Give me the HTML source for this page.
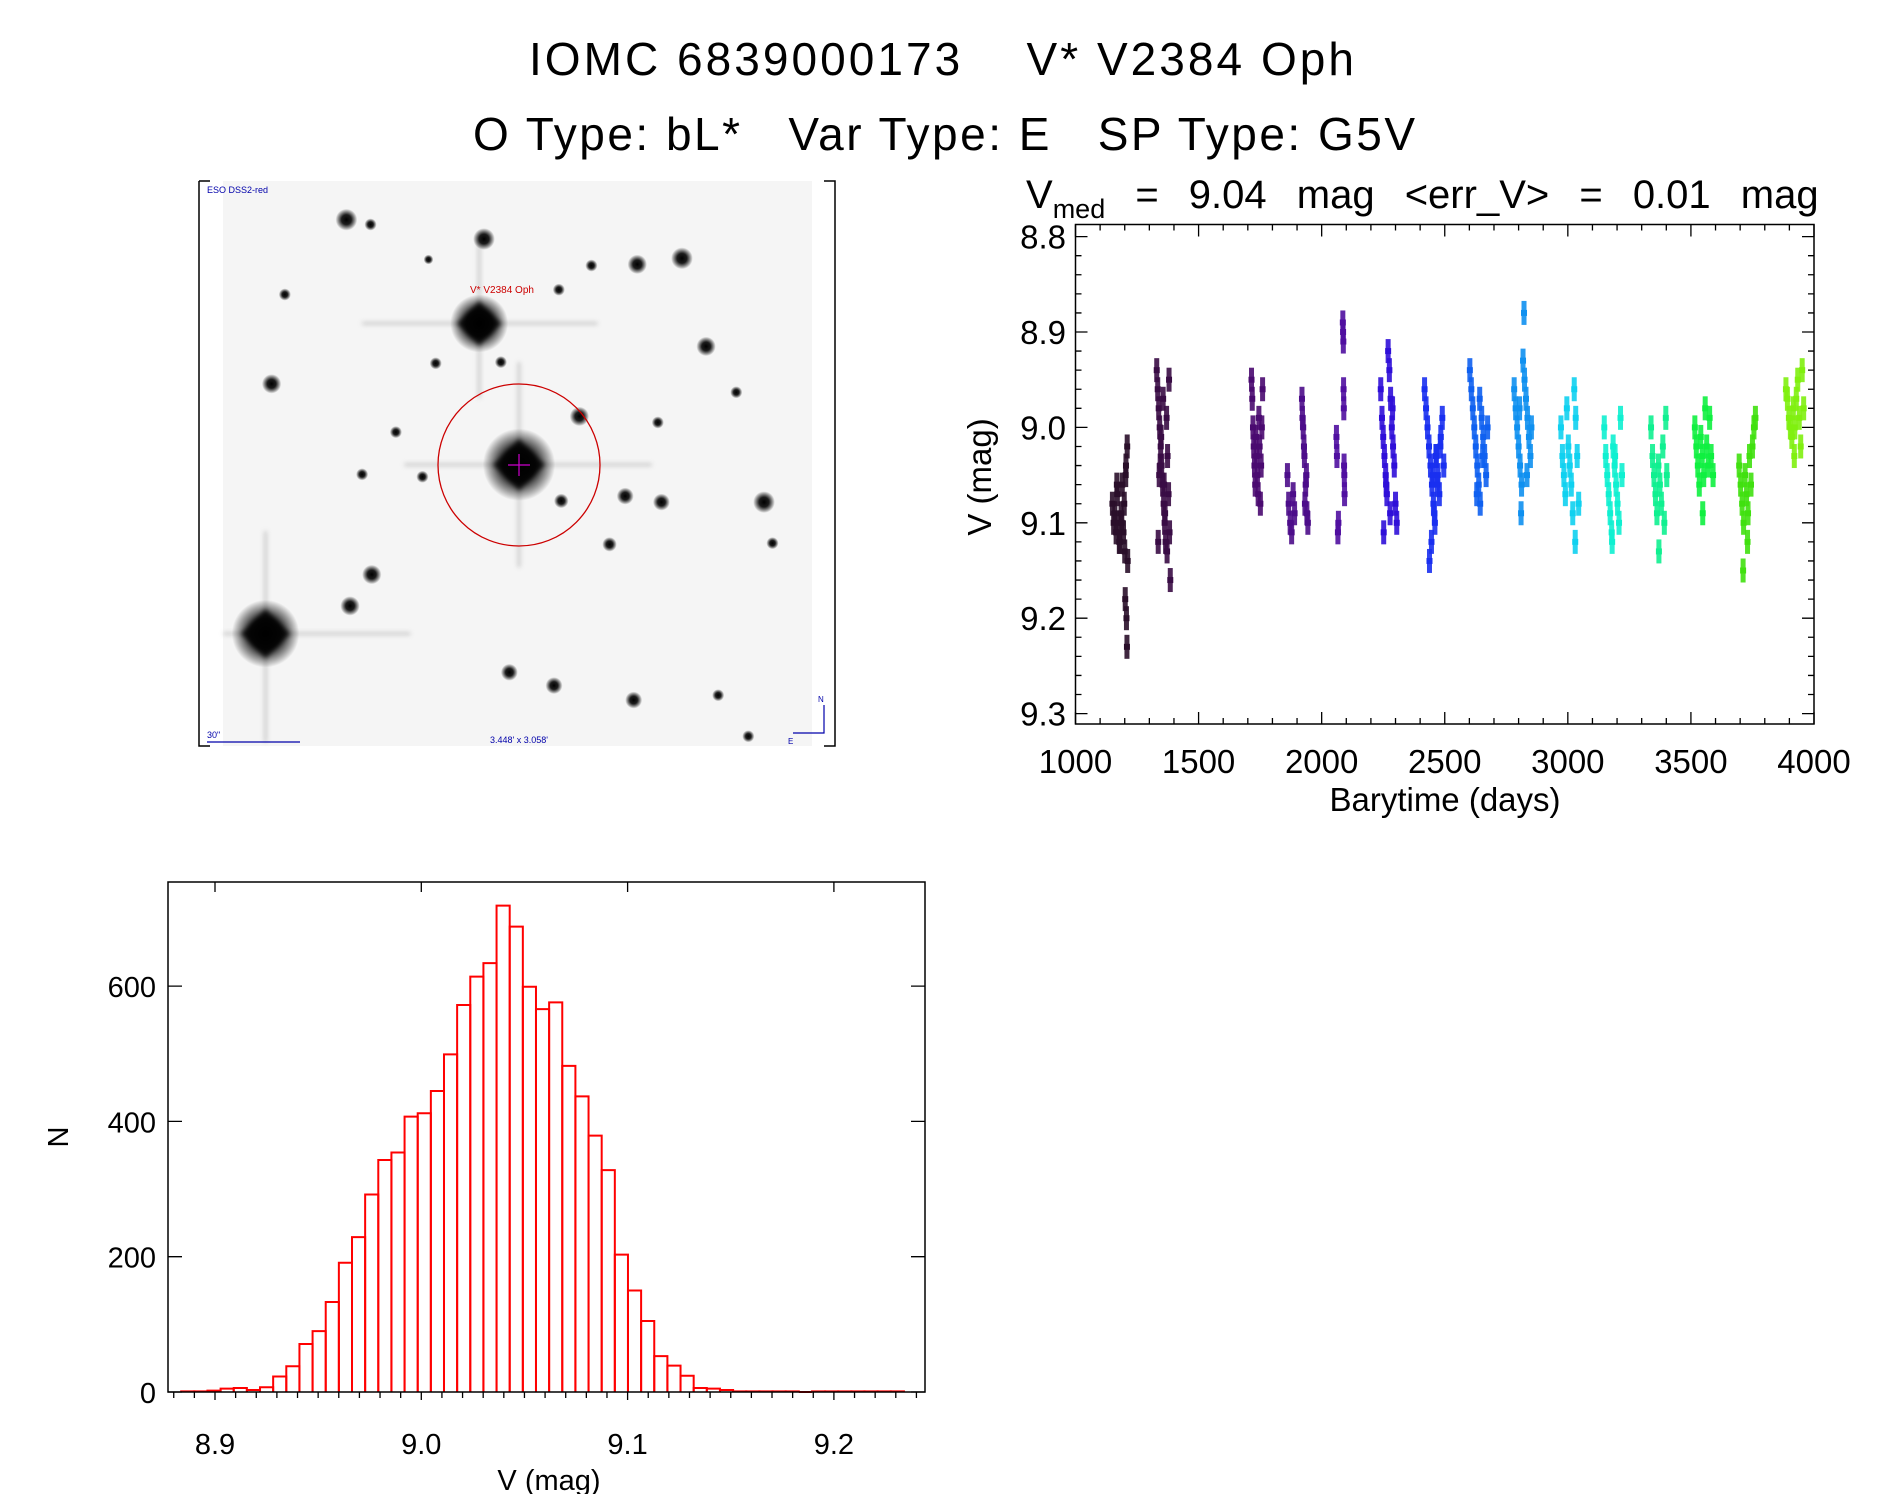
<!DOCTYPE html>
<html><head><meta charset="utf-8"><title>IOMC 6839000173 light curve</title>
<style>
html,body{margin:0;padding:0;background:#fff;}
svg{display:block;font-family:"Liberation Sans",sans-serif;}
</style></head>
<body>
<svg id="fig" width="1889" height="1494" viewBox="0 0 1889 1494" xmlns="http://www.w3.org/2000/svg">
<defs>
<radialGradient id="starg"><stop offset="0" stop-color="#000" stop-opacity="1"/><stop offset="0.45" stop-color="#111" stop-opacity="0.95"/><stop offset="1" stop-color="#000" stop-opacity="0"/></radialGradient>
<filter id="blur1"><feGaussianBlur stdDeviation="2"/></filter>
</defs>
<text x="529" y="75" font-size="46" textLength="825" lengthAdjust="spacing">IOMC 6839000173&#160;&#160;&#160;&#160;V* V2384 Oph</text>
<text x="473" y="150" font-size="46" textLength="942" lengthAdjust="spacing">O Type: bL*&#160;&#160;&#160;Var Type: E&#160;&#160;&#160;SP Type: G5V</text>
<text x="1026" y="208" font-size="40" word-spacing="19">V<tspan font-size="27" dy="10">med</tspan><tspan dy="-10"> = 9.04 mag &lt;err_V&gt; = 0.01 mag</tspan></text>

<g id="thumb">
<rect x="199" y="181" width="636" height="565" fill="#fff"/>
<rect x="223" y="181" width="589" height="565" fill="#f5f5f5"/>
<g transform="scale(1.207)" id="stars"></g>
<path d="M199 181 H210 M199 181 V746 H210 M824 181 H835 V746 H824" stroke="#000" stroke-width="1.5" fill="none"/>
<circle cx="519" cy="465" r="81" fill="none" stroke="#c00" stroke-width="1.3"/>
<path d="M508 465 H530 M519 454 V476" stroke="#c0c" stroke-width="1.2"/>
<text x="470" y="293" font-size="10" fill="#c00">V* V2384 Oph</text>
<text x="207" y="193" font-size="9" fill="#00a">ESO DSS2-red</text>
<text x="207" y="738" font-size="9" fill="#00a">30"</text>
<path d="M207 742 H300" stroke="#00a" stroke-width="1.2"/>
<text x="490" y="743" font-size="9" fill="#00a">3.448' x 3.058'</text>
<text x="818" y="702" font-size="8" fill="#00a">N</text>
<text x="788" y="744" font-size="8" fill="#00a">E</text>
<path d="M824 705 V733 H793" stroke="#00a" stroke-width="1.2" fill="none"/>
</g>

<g id="lc"></g>
<g id="hist"></g>
</svg>
<script>
// ---------- light curve data ----------
const seasonColors = ["#2a0f2a","#3a0c45","#4a0a70","#4c0d8a","#5010a0","#3010d8","#1a30f0","#1060f0","#1090f0","#10d0f0","#10f0d0","#10f090","#10f040","#40e010","#80f010"];
const seasonTimes = [
 [1150,1155,1160,1165,1170,1175,1180,1185,1190,1195,1200,1205,1210,1212,1198,1188,1178,1168,1202,1207,1209,1204],
 [1330,1334,1338,1342,1346,1350,1354,1358,1362,1366,1370,1374,1378,1382,1340,1348,1356,1364,1372,1380,1344,1385,1336,1360],
 [1715,1718,1721,1724,1727,1730,1733,1736,1739,1742,1745,1748,1751,1754,1757,1760],
 [1861,1866,1872,1878,1884,1890,1920,1925,1930,1935,1940,1944,1928,1938,1922,1932],
 [2060,2062,2066,2068,2086,2087,2088,2089,2090,2091,2092,2093],
 [2240,2245,2250,2255,2260,2265,2270,2275,2280,2285,2290,2295,2300,2305,2262,2278,2252,2288],
 [2418,2424,2430,2436,2442,2448,2454,2460,2466,2472,2478,2484,2490,2496,2446,2458,2470,2482,2438,2452,2464],
 [2602,2608,2614,2620,2626,2632,2638,2644,2650,2656,2662,2668,2674,2630,2642,2654],
 [2782,2788,2794,2800,2806,2812,2818,2824,2830,2836,2842,2848,2852,2810,2822,2834,2804],
 [2972,2978,2984,2990,2996,3002,3008,3014,3020,3026,3032,3038,3044,3030],
 [3148,3154,3160,3166,3172,3178,3184,3190,3196,3202,3208,3214,3220,3180,3192],
 [3338,3344,3350,3356,3362,3368,3374,3380,3386,3392,3398,3402,3370],
 [3516,3522,3528,3534,3540,3546,3552,3558,3564,3570,3576,3582,3590,3548],
 [3696,3702,3708,3714,3720,3726,3732,3738,3744,3750,3756,3762,3712,3730],
 [3886,3892,3898,3904,3910,3916,3922,3928,3934,3940,3946,3952,3958,3920]
];
const seasonMags = [
 [9.08,9.10,9.09,9.11,9.07,9.10,9.12,9.09,9.06,9.11,9.13,9.04,9.02,9.14,9.08,9.10,9.12,9.06,9.18,9.20,9.23,9.05],
 [8.94,8.96,8.98,9.00,9.02,9.04,9.06,9.08,9.10,9.12,8.99,9.03,9.07,9.11,9.05,9.01,8.97,9.09,9.13,8.95,9.04,9.16,9.12,9.06],
 [8.95,8.97,9.00,9.02,9.04,9.06,9.01,9.03,9.05,9.07,8.99,9.02,9.08,9.04,9.00,8.96],
 [9.05,9.08,9.10,9.11,9.07,9.09,8.97,9.00,9.03,9.06,9.09,9.10,9.02,9.05,8.99,9.08],
 [9.01,9.03,9.11,9.10,8.89,8.90,8.91,8.96,8.98,9.04,9.05,9.07],
 [8.96,8.99,9.01,9.03,9.05,9.07,8.92,8.94,8.97,9.00,9.02,9.04,9.08,9.10,9.06,9.09,9.11,8.98],
 [8.96,8.98,9.00,9.02,9.04,9.06,9.08,9.10,9.03,9.05,9.07,9.01,8.99,9.04,9.12,9.09,9.06,9.02,9.14,9.05,9.03],
 [8.94,8.96,8.98,9.00,9.02,9.04,9.06,9.08,8.99,9.01,9.03,9.05,9.00,9.07,8.97,9.03],
 [8.96,8.98,9.00,9.02,9.04,9.06,8.93,8.95,8.97,8.99,9.01,9.03,9.00,9.09,8.88,9.05,8.98],
 [9.00,9.03,9.05,9.07,8.98,9.02,9.04,9.06,9.09,8.96,8.99,9.03,9.08,9.12],
 [9.00,9.03,9.05,9.07,9.09,9.11,9.02,9.04,9.06,9.08,9.10,8.99,9.05,9.12,9.03],
 [9.00,9.03,9.05,9.07,9.09,9.04,9.06,9.08,9.02,9.10,8.99,9.05,9.13],
 [9.00,9.02,9.04,9.06,9.01,9.03,9.05,8.98,9.02,9.04,8.99,9.03,9.05,9.09],
 [9.04,9.06,9.08,9.10,9.05,9.07,9.09,9.03,9.06,9.02,9.00,8.99,9.15,9.12],
 [8.96,8.97,8.99,9.00,9.01,8.98,9.00,8.97,8.95,8.99,9.02,8.94,8.98,9.03]
];
const lcXTicks = [1000,1500,2000,2500,3000,3500,4000];
const lcYTicks = [8.8,8.9,9.0,9.1,9.2,9.3];

// ---------- histogram data ----------
const histStart = 8.8836;
const histBinWidth = 0.00637;
const histCounts = [1,1,2,5,6,3,7,23,38,71,90,133,191,229,292,343,354,407,412,445,499,572,614,634,719,688,599,566,576,482,437,379,328,203,150,105,53,39,24,6,5,3,1,1,1,1,1,0,1,1,1,1,1,1,1];
const histXTicks = [8.9,9.0,9.1,9.2];
const histYTicks = [0,200,400,600];

const NS = "http://www.w3.org/2000/svg";
function mk(tag, attrs, parent){const e=document.createElementNS(NS,tag);for(const k in attrs)e.setAttribute(k,attrs[k]);parent.appendChild(e);return e;}

// ---------- finder image stars ----------
const starsG = document.getElementById('stars');
const starList = [[397,268,24],[430,385,30],[220,525,28],[401,198,9],[287,182,9],[565,214,9],[528,219,8],[585,287,8],[225,318,8],[633,416,9],[308,476,8],[290,502,8],[459,568,7],[525,580,7],[422,557,7],[480,345,8],[548,416,7],[518,411,7],[465,415,6],[505,451,6],[361,301,5],[328,358,5],[595,576,5],[620,610,5],[640,450,5],[236,244,5],[307,186,5],[490,220,5],[610,325,5],[300,393,5],[350,395,5],[463,240,5],[415,300,5],[355,215,4],[545,350,5]];
mk('path',{d:"M300 268 H495 M397 200 V330 M335 385 H540 M430 300 V470 M185 525 H340 M220 440 V615",stroke:"#999","stroke-width":"2",opacity:"0.6",filter:"url(#blur1)"},starsG);
starList.forEach(s=>{
  const c=mk('circle',{cx:s[0],cy:s[1],r:s[2],fill:"url(#starg)"},starsG);
  
  
});
mk('path',{d:"M410 385 H450 M430 365 V405 M397 252 L413 268 L397 284 L381 268 Z M430 366 L449 385 L430 404 L411 385 Z M220 507 L238 525 L220 543 L202 525 Z",fill:"#000",stroke:"#000","stroke-width":"3",opacity:"0.85",filter:"url(#blur1)"},starsG);

// ---------- light curve ----------
const lc = document.getElementById('lc');
const LX0=1075.5, LX1=1814, LY0=224.5, LY1=724;
const lx = t => LX0 + (t-1000)/3000*(LX1-LX0);
const ly = v => 236.6 + (v-8.8)/0.1*95.4;
seasonTimes.forEach((ts,i)=>{
  const g=mk('g',{fill:seasonColors[i]},lc);
  
  
  ts.forEach((t,j)=>{
    const v=seasonMags[i][j];
    mk('rect',{x:lx(t)-3,y:ly(v)-3,width:6,height:6},g);
    mk('rect',{x:lx(t)-2.5,y:ly(v)-12,width:5,height:24,opacity:"0.9"},g);
  });
});
const lcFrame=mk('rect',{x:LX0,y:LY0,width:LX1-LX0,height:LY1-LY0,fill:"none",stroke:"#000","stroke-width":"1.5"},lc);


let tk="";
for(let t=1000;t<=4000;t+=100){const x=lx(t);const L=(t%500===0)?12:6;tk+=`M${x} ${LY1} V${LY1-L} M${x} ${LY0} V${LY0+L} `;}
for(let k=0;k<=26;k++){const v=8.78+k*0.02;const y=ly(v);if(y<LY0||y>LY1)continue;const L=(Math.abs(v*10-Math.round(v*10))<1e-6)?12:6;tk+=`M${LX0} ${y} H${LX0+L} M${LX1} ${y} H${LX1-L} `;}
mk('path',{d:tk,stroke:"#000","stroke-width":"1.3",fill:"none"},lc);
lcXTicks.forEach(t=>{const e=mk('text',{x:lx(t),y:773,"font-size":"33","text-anchor":"middle"},lc);e.textContent=t;
  
  });
lcYTicks.forEach(v=>{const e=mk('text',{x:1066,y:ly(v)+12,"font-size":"33","text-anchor":"end"},lc);e.textContent=v.toFixed(1);
  
  });
let e1=mk('text',{x:1445,y:811,"font-size":"33","text-anchor":"middle"},lc);e1.textContent="Barytime (days)";


let e2=mk('text',{x:0,y:0,"font-size":"33","text-anchor":"middle",transform:"translate(991 477) rotate(-90)"},lc);e2.textContent="V (mag)";



// ---------- histogram ----------
const hg = document.getElementById('hist');
const HX0=168, HX1=925, HY0=882, HY1=1392;
const hx = v => 215 + (v-8.9)/0.1*206.3;
const hy = n => HY1 - n/200*135.3;
histCounts.forEach((n,i)=>{
  const a=histStart+i*histBinWidth, b=a+histBinWidth;
  const r=mk('path',{d:`M${hx(a)} ${HY1} V${hy(n)} H${hx(b)} V${HY1}`,fill:"none",stroke:"#f00","stroke-width":"2"},hg);
  
  
});
const hFrame=mk('rect',{x:HX0,y:HY0,width:HX1-HX0,height:HY1-HY0,fill:"none",stroke:"#000","stroke-width":"1.5"},hg);


let ht="";
for(let k=0;k<=40;k++){const v=8.87+k*0.01;const x=hx(v);if(x<HX0||x>HX1)continue;const major=Math.abs(v*10-Math.round(v*10))<1e-6;
  ht+=`M${x} ${HY1} V${HY1+6} `; if(major){ht+=`M${x} ${HY0} V${HY0+10} M${x} ${HY1} V${HY1+8} `;}}
histYTicks.forEach(n=>{const y=hy(n);ht+=`M${HX0} ${y} H${HX0+14} M${HX1} ${y} H${HX1-14} `;});
mk('path',{d:ht,stroke:"#000","stroke-width":"1.3",fill:"none"},hg);
histXTicks.forEach(v=>{const e=mk('text',{x:hx(v),y:1454,"font-size":"29","text-anchor":"middle"},hg);e.textContent=v.toFixed(1);
  
  });
histYTicks.forEach(n=>{const e=mk('text',{x:156,y:hy(n)+11,"font-size":"29","text-anchor":"end"},hg);e.textContent=n;
  
  });
let e3=mk('text',{x:549,y:1490,"font-size":"29","text-anchor":"middle"},hg);e3.textContent="V (mag)";


let e4=mk('text',{x:0,y:0,"font-size":"29","text-anchor":"middle",transform:"translate(68 1137) rotate(-90)"},hg);e4.textContent="N";


</script>
</body></html>
